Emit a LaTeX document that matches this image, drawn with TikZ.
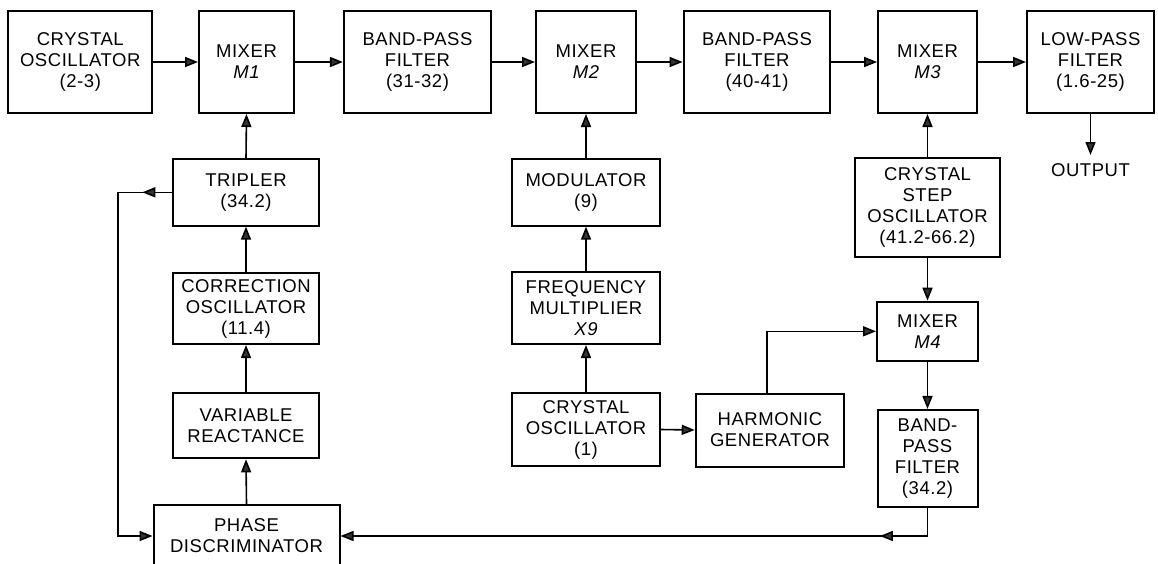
\documentclass[tikz,border=0pt]{standalone}
\usepackage{fontspec}
\setmainfont{Liberation Sans}[LetterSpace=3]
\usetikzlibrary{arrows.meta,decorations.markings,calc}
\begin{document}
\begin{tikzpicture}[x=1pt,y=-1pt,
  blk/.style={draw,line width=2pt,inner sep=0pt,align=center,font=\fontsize{18.5}{21}\selectfont},
  wh/.style 2 args={minimum width=#1pt,minimum height=#2pt},
  con/.style={line width=1.6pt},
  arr/.style={-{Triangle[length=13pt,width=10pt,fill=black!80]}},
  midtip/.style={postaction={decorate},decoration={markings,mark=at position #1 with {\arrow{Triangle[length=13pt,width=10pt,fill=black!80]}}}},
  lbl/.style={font=\fontsize{18.5}{21}\selectfont,inner xsep=0pt,inner ysep=8pt}
]
\useasboundingbox (0,0) rectangle (1158,563);
\clip (0,0) rectangle (1158,563);
\fill[white] (0,0) rectangle (1158,563);

% top row
\node[blk,wh={144.3}{102}] (co1)  at (80.3,62)  {CRYSTAL\\OSCILLATOR\\(2-3)};
\node[blk,wh={95}{102}]    (m1)   at (246.5,62) {MIXER\\{\itshape M1}};
\node[blk,wh={147.2}{102}] (bpf1) at (417.5,62) {BAND-PASS\\FILTER\\(31-32)};
\node[blk,wh={100}{102}]   (m2)   at (586,62)   {MIXER\\{\itshape M2}};
\node[blk,wh={146.8}{102}] (bpf2) at (757,62)   {BAND-PASS\\FILTER\\(40-41)};
\node[blk,wh={98.7}{102}]  (m3)   at (927.5,62) {MIXER\\{\itshape M3}};
\node[blk,wh={127}{102}]   (lpf)  at (1090.5,62) {LOW-PASS\\FILTER\\(1.6-25)};
\node[lbl,anchor=north]    (out)  at (1090.5,155) {OUTPUT};

% left column
\node[blk,wh={145.3}{66.7}] (trip) at (246,192.3) {TRIPLER\\(34.2)};
\node[blk,wh={146}{71}]     (corr) at (246,308.5) {CORRECTION\\OSCILLATOR\\(11.4)};
\node[blk,wh={146}{65}]     (vr)   at (246,425.8) {VARIABLE\\REACTANCE};
\node[blk,wh={186}{62}]     (pd)   at (246.5,536) {PHASE\\DISCRIMINATOR};

% middle column
\node[blk,wh={148}{66.7}] (mod) at (586,192.3) {MODULATOR\\(9)};
\node[blk,wh={148}{72}]   (fm)  at (586,308)   {FREQUENCY\\MULTIPLIER\\{\itshape X9}};
\node[blk,wh={148}{73}]   (co2) at (586,429.5) {CRYSTAL\\OSCILLATOR\\(1)};
\node[blk,wh={148.6}{73}] (hg)  at (770,430)   {HARMONIC\\GENERATOR};

% right column
\node[blk,wh={145}{98.4}]  (cso)  at (927.5,207.5) {CRYSTAL\\STEP\\OSCILLATOR\\(41.2-66.2)};
\node[blk,wh={101}{59.3}]  (m4)   at (927.5,331.3) {MIXER\\{\itshape M4}};
\node[blk,wh={100}{96.7}]  (bpf3) at (927.5,458.3) {BAND-\\PASS\\FILTER\\(34.2)};

\coordinate (fbl) at (118,536);

% connectors
\draw[con,arr] (co1.east) -- (m1.west);
\draw[con,arr] (m1.east) -- (bpf1.west);
\draw[con,arr] (bpf1.east) -- (m2.west);
\draw[con,arr] (m2.east) -- (bpf2.west);
\draw[con,arr] (bpf2.east) -- (m3.west);
\draw[con,arr] (m3.east) -- (lpf.west);
\draw[con,arr] (lpf.south) -- (out.north);

\draw[con,arr] (trip.north) -- (m1.south);
\draw[con,arr] (corr.north) -- (trip.south);
\draw[con,arr] (vr.north) -- (corr.south);
\draw[con,arr] (pd.north) -- (vr.south);

\draw[con,arr] (mod.north) -- (m2.south);
\draw[con,arr] (fm.north) -- (mod.south);
\draw[con,arr] (co2.north) -- (fm.south);
\draw[con,arr] (co2.east) -- (hg.west);
\draw[con,arr] ([xshift=-3pt]hg.north) |- (m4.west);

\draw[con,arr] (cso.north) -- (m3.south);
\draw[con,arr] (cso.south) -- (m4.north);
\draw[con,arr] (m4.south) -- (bpf3.north);

\draw[con,arr,midtip={30pt}] (trip.west) -- (trip.west -| fbl) |- (pd.west);
\draw[con,arr,midtip={76pt}] (bpf3.south) |- (pd.east);
\end{tikzpicture}
\end{document}
